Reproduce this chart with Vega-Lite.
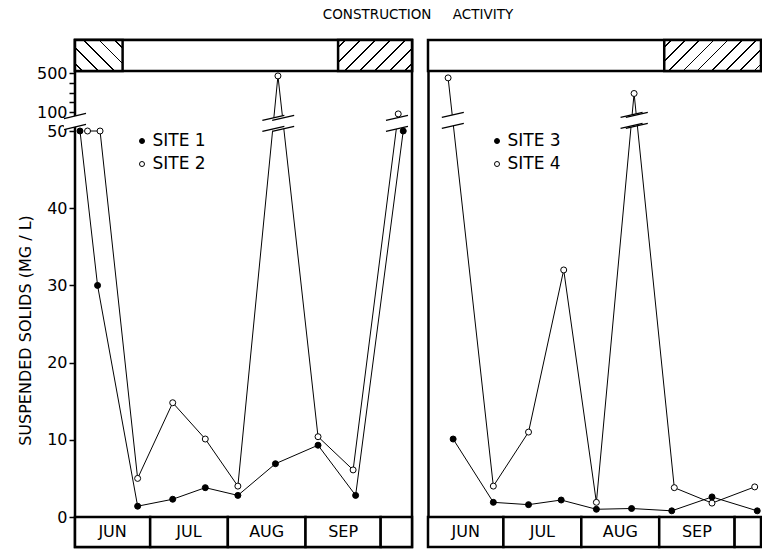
{
  "$schema": "https://vega.github.io/schema/vega-lite/v6.json",
  "background": "white",
  "padding": {"left": 15, "top": 8, "right": 0, "bottom": 0},
  "title": {"text": "CONSTRUCTION\u00a0\u00a0\u00a0\u00a0\u00a0ACTIVITY", "font": "DejaVu Sans", "fontSize": 13.5, "fontWeight": "normal", "color": "black", "anchor": "middle", "offset": 16, "dx": 29},
  "config": {
    "font": "DejaVu Sans",
    "view": {"stroke": "black", "strokeWidth": 2.5},
    "axis": {"grid": false, "labelFont": "DejaVu Sans", "titleFont": "DejaVu Sans", "labelColor": "black", "titleColor": "black", "tickColor": "black", "domainColor": "black"},
    "text": {"font": "DejaVu Sans"}
  },
  "datasets": {
    "sitesL": [
      {"site": "SITE 1", "date": "1977-06-03", "value": 50},
      {"site": "SITE 1", "date": "1977-06-10", "value": 30},
      {"site": "SITE 1", "date": "1977-06-26", "value": 1.4},
      {"site": "SITE 1", "date": "1977-07-10", "value": 2.3},
      {"site": "SITE 1", "date": "1977-07-23", "value": 3.8},
      {"site": "SITE 1", "date": "1977-08-05", "value": 2.8},
      {"site": "SITE 1", "date": "1977-08-20", "value": 6.9},
      {"site": "SITE 1", "date": "1977-09-06", "value": 9.3},
      {"site": "SITE 1", "date": "1977-09-21", "value": 2.8},
      {"site": "SITE 1", "date": "1977-10-10", "value": 50},
      {"site": "SITE 2", "date": "1977-06-06", "value": 50},
      {"site": "SITE 2", "date": "1977-06-11", "value": 50},
      {"site": "SITE 2", "date": "1977-06-26", "value": 5.0},
      {"site": "SITE 2", "date": "1977-07-10", "value": 14.8},
      {"site": "SITE 2", "date": "1977-07-23", "value": 10.1},
      {"site": "SITE 2", "date": "1977-08-05", "value": 4.0},
      {"site": "SITE 2", "date": "1977-08-21", "value": 470},
      {"site": "SITE 2", "date": "1977-09-06", "value": 10.4},
      {"site": "SITE 2", "date": "1977-09-20", "value": 6.1},
      {"site": "SITE 2", "date": "1977-10-08", "value": 95}
    ],
    "sitesR": [
      {"site": "SITE 3", "date": "1977-06-11", "value": 10.1},
      {"site": "SITE 3", "date": "1977-06-27", "value": 1.9},
      {"site": "SITE 3", "date": "1977-07-11", "value": 1.6},
      {"site": "SITE 3", "date": "1977-07-24", "value": 2.2},
      {"site": "SITE 3", "date": "1977-08-07", "value": 1.0},
      {"site": "SITE 3", "date": "1977-08-21", "value": 1.1},
      {"site": "SITE 3", "date": "1977-09-06", "value": 0.8},
      {"site": "SITE 3", "date": "1977-09-22", "value": 2.6},
      {"site": "SITE 3", "date": "1977-10-10", "value": 0.8},
      {"site": "SITE 4", "date": "1977-06-09", "value": 450},
      {"site": "SITE 4", "date": "1977-06-27", "value": 4.0},
      {"site": "SITE 4", "date": "1977-07-11", "value": 11.0},
      {"site": "SITE 4", "date": "1977-07-25", "value": 32},
      {"site": "SITE 4", "date": "1977-08-07", "value": 1.9},
      {"site": "SITE 4", "date": "1977-08-22", "value": 290},
      {"site": "SITE 4", "date": "1977-09-07", "value": 3.8},
      {"site": "SITE 4", "date": "1977-09-22", "value": 1.8},
      {"site": "SITE 4", "date": "1977-10-09", "value": 3.9}
    ],
    "breaksL": [
      {"date": "1977-06-01", "value": 75},
      {"date": "1977-08-19T04:00:00Z", "value": 70},
      {"date": "1977-08-23T02:00:00Z", "value": 70},
      {"date": "1977-10-07T12:00:00Z", "value": 70}
    ],
    "breaksR": [
      {"date": "1977-06-10T21:00:00Z", "value": 78},
      {"date": "1977-08-21T00:00:00Z", "value": 78},
      {"date": "1977-08-23T02:00:00Z", "value": 78}
    ],
    "monthsL": [
      {"month": "JUN", "date": "1977-06-01", "date2": "1977-07-01", "mid": "1977-06-16"},
      {"month": "JUL", "date": "1977-07-01", "date2": "1977-08-01", "mid": "1977-07-16T12:00:00Z"},
      {"month": "AUG", "date": "1977-08-01", "date2": "1977-09-01", "mid": "1977-08-16T12:00:00Z"},
      {"month": "SEP", "date": "1977-09-01", "date2": "1977-10-01", "mid": "1977-09-16"},
      {"month": "", "date": "1977-10-01", "date2": "1977-10-13T12:00:00Z", "mid": "1977-10-07"}
    ],
    "monthsR": [
      {"month": "JUN", "date": "1977-06-01", "date2": "1977-07-01", "mid": "1977-06-16"},
      {"month": "JUL", "date": "1977-07-01", "date2": "1977-08-01", "mid": "1977-07-16T12:00:00Z"},
      {"month": "AUG", "date": "1977-08-01", "date2": "1977-09-01", "mid": "1977-08-16T12:00:00Z"},
      {"month": "SEP", "date": "1977-09-01", "date2": "1977-10-01", "mid": "1977-09-16"},
      {"month": "", "date": "1977-10-01", "date2": "1977-10-11T12:00:00Z", "mid": "1977-10-06"}
    ],
    "activityL": [
      {"kind": "bar", "date": "1977-06-01", "date2": "1977-10-13T12:00:00Z"},
      {"kind": "back", "date": "1977-06-01", "date2": "1977-06-20"},
      {"kind": "fwd", "date": "1977-09-14", "date2": "1977-10-13T12:00:00Z"}
    ],
    "activityR": [
      {"kind": "bar", "date": "1977-06-01", "date2": "1977-10-11T12:00:00Z"},
      {"kind": "fwd", "date": "1977-09-03", "date2": "1977-10-11T12:00:00Z"}
    ]
  },
  "spacing": 11,
  "resolve": {"scale": {"x": "independent", "y": "independent", "fill": "independent"}, "legend": {"fill": "independent"}, "axis": {"y": "independent"}},
  "hconcat": [
    {
      "width": 337,
      "height": 507,
      "encoding": {
        "x": {"field": "date", "type": "temporal", "scale": {"type": "utc", "domain": [{"year": 1977, "month": 6, "date": 1, "utc": true}, {"year": 1977, "month": 10, "date": 13, "hours": 12, "utc": true}]}, "axis": null}
      },
      "layer": [
        {
          "data": {"name": "activityL"},
          "transform": [{"filter": "datum.kind == 'bar'"}],
          "mark": {"type": "rect", "fill": "white", "stroke": "black", "strokeWidth": 2.5},
          "encoding": {
            "x2": {"field": "date2"},
            "y": {"datum": 520, "type": "quantitative", "scale": {"domain": [-4, 0, 50, 100, 500, 520, 800], "range": [507, 477, 91, 72, 33, 31, 0], "zero": false, "nice": false}},
            "y2": {"datum": 800}
          }
        },
        {
          "data": {"name": "activityL"},
          "transform": [{"filter": "datum.kind == 'back'"}],
          "mark": {"type": "rect", "stroke": "black", "strokeWidth": 2.5,
            "fill": {"gradient": "linear", "x1": 0, "y1": 1, "x2": 1.159, "y2": 0.245, "stops": [
              {"offset": 0, "color": "white"},
              {"offset": 0.089, "color": "white"}, {"offset": 0.089, "color": "black"}, {"offset": 0.111, "color": "black"}, {"offset": 0.111, "color": "white"},
              {"offset": 0.289, "color": "white"}, {"offset": 0.289, "color": "black"}, {"offset": 0.311, "color": "black"}, {"offset": 0.311, "color": "white"},
              {"offset": 0.489, "color": "white"}, {"offset": 0.489, "color": "black"}, {"offset": 0.511, "color": "black"}, {"offset": 0.511, "color": "white"},
              {"offset": 0.689, "color": "white"}, {"offset": 0.689, "color": "black"}, {"offset": 0.711, "color": "black"}, {"offset": 0.711, "color": "white"},
              {"offset": 0.889, "color": "white"}, {"offset": 0.889, "color": "black"}, {"offset": 0.911, "color": "black"}, {"offset": 0.911, "color": "white"},
              {"offset": 1, "color": "white"}
            ]}},
          "encoding": {"x2": {"field": "date2"}, "y": {"datum": 520, "type": "quantitative"}, "y2": {"datum": 800}}
        },
        {
          "data": {"name": "activityL"},
          "transform": [{"filter": "datum.kind == 'fwd'"}],
          "mark": {"type": "rect", "stroke": "black", "strokeWidth": 2.5,
            "fill": {"gradient": "linear", "x1": 0, "y1": 0, "x2": 1.207, "y2": 0.506, "stops": [
              {"offset": 0, "color": "white"},
              {"offset": 0.0633, "color": "white"}, {"offset": 0.0633, "color": "black"}, {"offset": 0.0795, "color": "black"}, {"offset": 0.0795, "color": "white"},
              {"offset": 0.2062, "color": "white"}, {"offset": 0.2062, "color": "black"}, {"offset": 0.2224, "color": "black"}, {"offset": 0.2224, "color": "white"},
              {"offset": 0.3490, "color": "white"}, {"offset": 0.3490, "color": "black"}, {"offset": 0.3652, "color": "black"}, {"offset": 0.3652, "color": "white"},
              {"offset": 0.4919, "color": "white"}, {"offset": 0.4919, "color": "black"}, {"offset": 0.5081, "color": "black"}, {"offset": 0.5081, "color": "white"},
              {"offset": 0.6348, "color": "white"}, {"offset": 0.6348, "color": "black"}, {"offset": 0.6510, "color": "black"}, {"offset": 0.6510, "color": "white"},
              {"offset": 0.7776, "color": "white"}, {"offset": 0.7776, "color": "black"}, {"offset": 0.7938, "color": "black"}, {"offset": 0.7938, "color": "white"},
              {"offset": 0.9205, "color": "white"}, {"offset": 0.9205, "color": "black"}, {"offset": 0.9367, "color": "black"}, {"offset": 0.9367, "color": "white"},
              {"offset": 1, "color": "white"}
            ]}},
          "encoding": {"x2": {"field": "date2"}, "y": {"datum": 520, "type": "quantitative"}, "y2": {"datum": 800}}
        },
        {
          "data": {"name": "monthsL"},
          "mark": {"type": "rect", "fill": "white", "stroke": "black", "strokeWidth": 2.5},
          "encoding": {"x2": {"field": "date2"}, "y": {"datum": -4, "type": "quantitative"}, "y2": {"datum": 0}}
        },
        {
          "data": {"name": "monthsL"},
          "mark": {"type": "text", "fontSize": 16, "color": "black", "baseline": "middle"},
          "encoding": {"x": {"field": "mid", "type": "temporal"}, "y": {"datum": -2, "type": "quantitative"}, "text": {"field": "month"}}
        },
        {
          "data": {"name": "sitesL"},
          "mark": {"type": "line", "color": "black", "strokeWidth": 1},
          "encoding": {
            "y": {
              "field": "value", "type": "quantitative",
              "axis": {
                "values": [0, 10, 20, 30, 40, 50, 100, 200, 300, 400, 500],
                "labelExpr": "datum.value == 200 || datum.value == 300 || datum.value == 400 ? '' : datum.label",
                "labelFontSize": 16, "labelPadding": 2, "labelOverlap": false, "labelFlush": false,
                "tickSize": 6, "tickWidth": 1.5, "domain": false,
                "title": "SUSPENDED  SOLIDS  (MG / L)", "titleFontSize": 16, "titleFontWeight": "normal",
                "titleAngle": -90, "titleBaseline": "middle", "titleAlign": "center", "titleX": -50, "titleY": 290
              }
            },
            "detail": {"field": "site"}
          }
        },
        {
          "data": {"name": "breaksL"},
          "mark": {"type": "point", "shape": "M-1,-0.27L1,-0.73L1,0.27L-1,0.73Z", "filled": true, "fill": "white", "strokeWidth": 0, "size": 484, "opacity": 1},
          "encoding": {"y": {"field": "value", "type": "quantitative"}}
        },
        {
          "data": {"name": "breaksL"},
          "mark": {"type": "point", "shape": "M-1,-0.27L1,-0.73M-1,0.73L1,0.27", "filled": false, "stroke": "black", "strokeWidth": 1.3, "size": 484, "opacity": 1},
          "encoding": {"y": {"field": "value", "type": "quantitative"}}
        },
        {
          "data": {"name": "sitesL"},
          "mark": {"type": "circle", "size": 36, "stroke": "black", "strokeWidth": 1, "opacity": 1},
          "encoding": {
            "y": {"field": "value", "type": "quantitative"},
            "fill": {"field": "site", "type": "nominal", "scale": {"domain": ["SITE 1", "SITE 2"], "range": ["black", "white"]},
              "legend": {"orient": "none", "legendX": 58.5, "legendY": 92.5, "title": null, "padding": 0, "labelFont": "DejaVu Sans", "labelFontSize": 17, "labelColor": "black", "symbolType": "circle", "symbolSize": 25, "symbolStrokeColor": "black", "symbolStrokeWidth": 1, "rowPadding": 5, "labelOffset": 2}}
          }
        }
      ]
    },
    {
      "width": 333,
      "height": 507,
      "view": {"stroke": null},
      "encoding": {
        "x": {"field": "date", "type": "temporal", "scale": {"type": "utc", "domain": [{"year": 1977, "month": 6, "date": 1, "utc": true}, {"year": 1977, "month": 10, "date": 11, "hours": 12, "utc": true}]}, "axis": null}
      },
      "layer": [
        {
          "data": {"name": "activityR"},
          "transform": [{"filter": "datum.kind == 'bar'"}],
          "mark": {"type": "rect", "fill": "white", "stroke": "black", "strokeWidth": 2.5},
          "encoding": {
            "x2": {"field": "date2"},
            "y": {"datum": 520, "type": "quantitative", "scale": {"domain": [-4, 0, 50, 100, 500, 520, 800], "range": [507, 477, 91, 72, 33, 31, 0], "zero": false, "nice": false}},
            "y2": {"datum": 800}
          }
        },
        {
          "data": {"name": "activityR"},
          "transform": [{"filter": "datum.kind == 'fwd'"}],
          "mark": {"type": "rect", "stroke": "black", "strokeWidth": 2.5,
            "fill": {"gradient": "linear", "x1": 0, "y1": 0, "x2": 1.197, "y2": 0.383, "stops": [
              {"offset": 0, "color": "white"},
              {"offset": 0.0490, "color": "white"}, {"offset": 0.0490, "color": "black"}, {"offset": 0.0622, "color": "black"}, {"offset": 0.0622, "color": "white"},
              {"offset": 0.1601, "color": "white"}, {"offset": 0.1601, "color": "black"}, {"offset": 0.1733, "color": "black"}, {"offset": 0.1733, "color": "white"},
              {"offset": 0.2712, "color": "white"}, {"offset": 0.2712, "color": "black"}, {"offset": 0.2844, "color": "black"}, {"offset": 0.2844, "color": "white"},
              {"offset": 0.3823, "color": "white"}, {"offset": 0.3823, "color": "black"}, {"offset": 0.3955, "color": "black"}, {"offset": 0.3955, "color": "white"},
              {"offset": 0.4934, "color": "white"}, {"offset": 0.4934, "color": "black"}, {"offset": 0.5066, "color": "black"}, {"offset": 0.5066, "color": "white"},
              {"offset": 0.6045, "color": "white"}, {"offset": 0.6045, "color": "black"}, {"offset": 0.6177, "color": "black"}, {"offset": 0.6177, "color": "white"},
              {"offset": 0.7156, "color": "white"}, {"offset": 0.7156, "color": "black"}, {"offset": 0.7288, "color": "black"}, {"offset": 0.7288, "color": "white"},
              {"offset": 0.8267, "color": "white"}, {"offset": 0.8267, "color": "black"}, {"offset": 0.8399, "color": "black"}, {"offset": 0.8399, "color": "white"},
              {"offset": 0.9378, "color": "white"}, {"offset": 0.9378, "color": "black"}, {"offset": 0.9510, "color": "black"}, {"offset": 0.9510, "color": "white"},
              {"offset": 1, "color": "white"}
            ]}},
          "encoding": {"x2": {"field": "date2"}, "y": {"datum": 520, "type": "quantitative"}, "y2": {"datum": 800}}
        },
        {
          "data": {"name": "monthsR"},
          "mark": {"type": "rect", "fill": "white", "stroke": "black", "strokeWidth": 2.5},
          "encoding": {"x2": {"field": "date2"}, "y": {"datum": -4, "type": "quantitative"}, "y2": {"datum": 0}}
        },
        {
          "data": {"name": "monthsR"},
          "mark": {"type": "text", "fontSize": 16, "color": "black", "baseline": "middle"},
          "encoding": {"x": {"field": "mid", "type": "temporal"}, "y": {"datum": -2, "type": "quantitative"}, "text": {"field": "month"}}
        },
        {
          "data": {"name": "sitesR"},
          "mark": {"type": "line", "color": "black", "strokeWidth": 1},
          "encoding": {
            "y": {"field": "value", "type": "quantitative", "axis": {"values": [], "labels": false, "ticks": false, "title": null, "domain": true, "domainWidth": 2.5, "domainColor": "black"}},
            "detail": {"field": "site"}
          }
        },
        {
          "data": {"name": "breaksR"},
          "mark": {"type": "point", "shape": "M-1,-0.27L1,-0.73L1,0.27L-1,0.73Z", "filled": true, "fill": "white", "strokeWidth": 0, "size": 484, "opacity": 1},
          "encoding": {"y": {"field": "value", "type": "quantitative"}}
        },
        {
          "data": {"name": "breaksR"},
          "mark": {"type": "point", "shape": "M-1,-0.27L1,-0.73M-1,0.73L1,0.27", "filled": false, "stroke": "black", "strokeWidth": 1.3, "size": 484, "opacity": 1},
          "encoding": {"y": {"field": "value", "type": "quantitative"}}
        },
        {
          "data": {"name": "sitesR"},
          "mark": {"type": "circle", "size": 36, "stroke": "black", "strokeWidth": 1, "opacity": 1},
          "encoding": {
            "y": {"field": "value", "type": "quantitative"},
            "fill": {"field": "site", "type": "nominal", "scale": {"domain": ["SITE 3", "SITE 4"], "range": ["black", "white"]},
              "legend": {"orient": "none", "legendX": 60.5, "legendY": 92.5, "title": null, "padding": 0, "labelFont": "DejaVu Sans", "labelFontSize": 17, "labelColor": "black", "symbolType": "circle", "symbolSize": 25, "symbolStrokeColor": "black", "symbolStrokeWidth": 1, "rowPadding": 5, "labelOffset": 2}}
          }
        }
      ]
    }
  ]
}
